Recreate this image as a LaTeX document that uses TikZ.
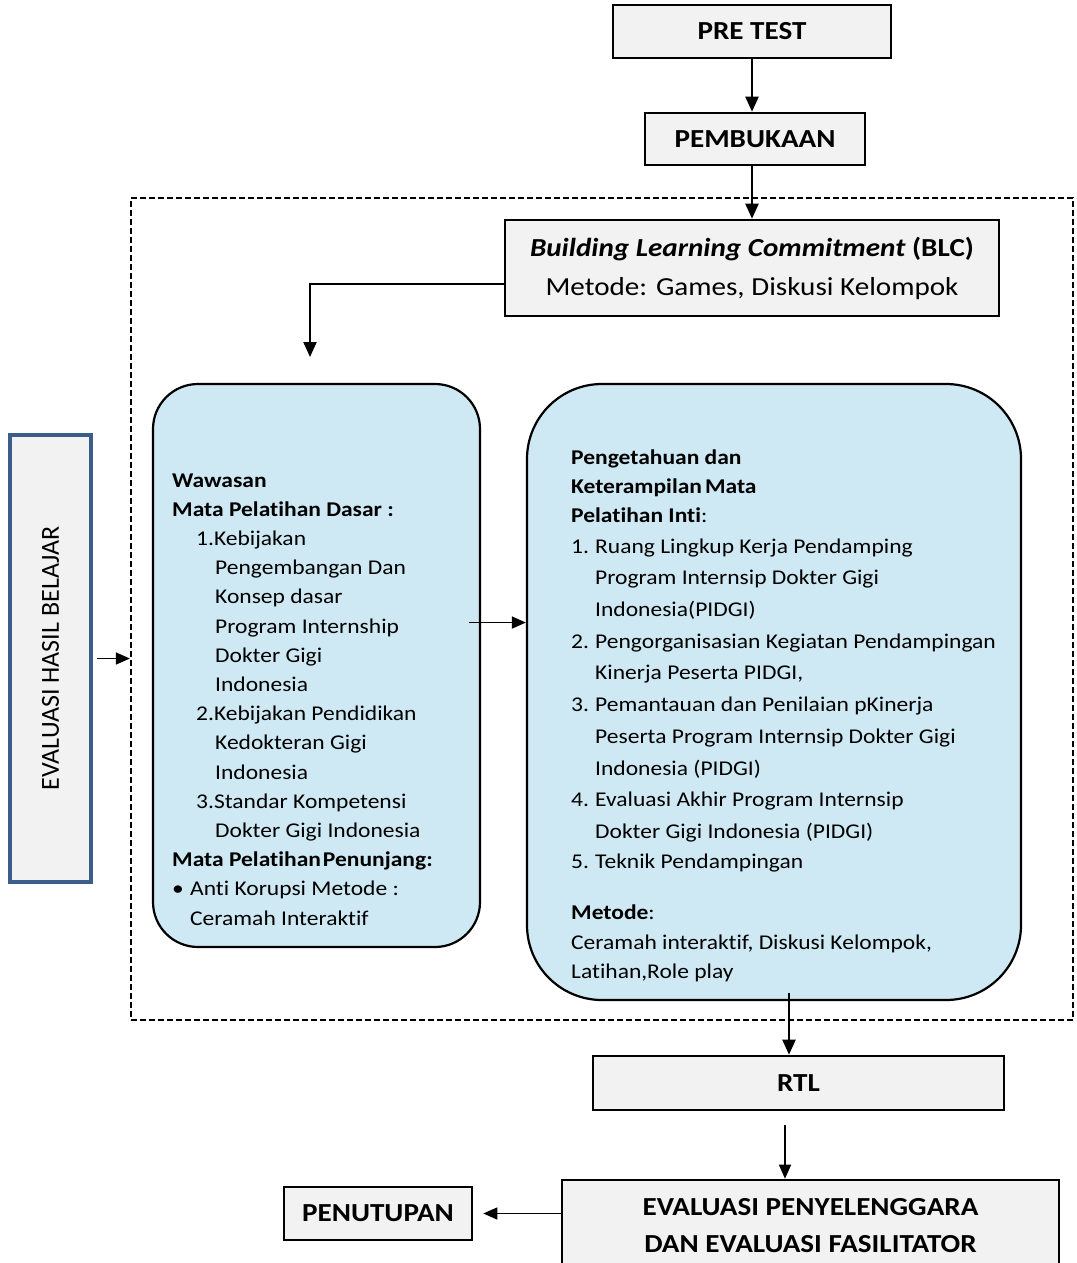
\documentclass[tikz,border=0pt]{standalone}
\usepackage{fontspec}
\setmainfont{Carlito}[FakeStretch=1.12, Ligatures=NoCommon]
\newfontfamily\plainfont{Carlito}
\usetikzlibrary{arrows.meta,positioning,calc}
\definecolor{boxgray}{RGB}{242,242,242}
\definecolor{modblue}{RGB}{206,233,243}
\definecolor{evalblue}{RGB}{59,93,137}

\begin{document}
\begin{tikzpicture}[x=1pt, y=-1pt,
    stage/.style={draw, line width=2.6pt, fill=boxgray, inner sep=0pt, align=center, font=\fontsize{26}{37}\selectfont\bfseries},
    module/.style={draw, line width=2.2pt, fill=modblue, inner sep=0pt},
    body/.style={inner sep=0pt, anchor=base west, font=\fontsize{21}{29.2}\selectfont},
    arr/.style={-{Triangle[length=15pt,width=13pt]}, line width=2.2pt},
    thinarr/.style={-{Triangle[length=14pt,width=12pt]}, line width=1.5pt}
]
\useasboundingbox (0,0) rectangle (1076,1263);

% dashed frame round the core sessions
\node[draw, dash pattern=on 6pt off 3pt, line width=2.3pt, minimum width=942pt, minimum height=822pt, inner sep=0pt] (frame) at (602,609) {};

\node[stage, minimum width=278pt, minimum height=53pt] (pre) at (752,31.5) {PRE TEST};
\node[stage, minimum width=220pt, minimum height=52pt] (buka) at (755,139) {PEMBUKAAN};
\node[stage, minimum width=494pt, minimum height=96pt, font=\fontsize{26}{39}\selectfont] (blc) at (752,268)
    {\textbf{\textit{Building Learning Commitment} (BLC)}\\Metode: Games, Diskusi Kelompok};

\node[module, rounded corners=45pt, minimum width=327pt, minimum height=563pt] (dasar) at (316.5,665.5) {};
\node[module, rounded corners=75pt, minimum width=494pt, minimum height=616pt] (inti) at (774,692) {};

\node[draw=evalblue, line width=4pt, fill=boxgray, rotate=90, minimum width=447pt, minimum height=81pt, inner sep=0pt,
      font=\plainfont\fontsize{26}{30}\selectfont] (ehb) at (50.5,658.5) {EVALUASI HASIL BELAJAR};

\node[stage, minimum width=411pt, minimum height=54pt] (rtl) at (798.5,1083) {RTL};
\node[stage, minimum width=497pt, minimum height=92pt] (evp) at (810.5,1226) {EVALUASI PENYELENGGARA\\DAN EVALUASI FASILITATOR};
\node[stage, minimum width=188pt, minimum height=53pt] (tutup) at (378,1213.5) {PENUTUPAN};

% text of the basic module
\node[body] (dasartxt) at (172,487) {\begin{tabular}[t]{@{}l@{}}
\textbf{Wawasan}\\
\textbf{Mata Pelatihan Dasar :}\\
\hspace*{24pt}1.Kebijakan\\
\hspace*{43pt}Pengembangan Dan\\
\hspace*{43pt}Konsep dasar\\
\hspace*{43pt}Program Internship\\
\hspace*{43pt}Dokter Gigi\\
\hspace*{43pt}Indonesia\\
\hspace*{24pt}2.Kebijakan Pendidikan\\
\hspace*{43pt}Kedokteran Gigi\\
\hspace*{43pt}Indonesia\\
\hspace*{24pt}3.Standar Kompetensi\\
\hspace*{43pt}Dokter Gigi Indonesia\\
\textbf{Mata Pelatihan\hspace{2pt}Penunjang:}\\
\makebox[18pt][l]{\textbullet}Anti Korupsi Metode :\\
\hspace*{18pt}Ceramah Interaktif
\end{tabular}};

% text of the core module
\node[body] (intitxt) at (571,464.5) {\begin{tabular}[t]{@{}l@{}}
\textbf{Pengetahuan dan}\\
\textbf{Keterampilan\hspace{3pt}Mata}\\
\textbf{Pelatihan Inti}:\\[1pt]
\makebox[24pt][l]{1.}Ruang Lingkup Kerja Pendamping\\[2.5pt]
\hspace*{24pt}Program Internsip Dokter Gigi\\[2.5pt]
\hspace*{24pt}Indonesia(PIDGI)\\[2.5pt]
\makebox[24pt][l]{2.}Pengorganisasian Kegiatan Pendampingan\\[2.5pt]
\hspace*{24pt}Kinerja Peserta PIDGI,\\[2.5pt]
\makebox[24pt][l]{3.}Pemantauan dan Penilaian pKinerja\\[2.5pt]
\hspace*{24pt}Peserta Program Internsip Dokter Gigi\\[2.5pt]
\hspace*{24pt}Indonesia (PIDGI)\\[2.5pt]
\makebox[24pt][l]{4.}Evaluasi Akhir Program Internsip\\[2.5pt]
\hspace*{24pt}Dokter Gigi Indonesia (PIDGI)\\[1pt]
\makebox[24pt][l]{5.}Teknik Pendampingan\\[22pt]
\textbf{Metode}:\\
Ceramah interaktif, Diskusi Kelompok,\\
Latihan,Role play
\end{tabular}};

\coordinate (blcdrop) at (310,357);
\coordinate (dasarout) at ($(dasar.north east)!0.424!(dasar.south east)+(-12,0)$);
\coordinate (intiout) at (789,993);
\coordinate (rtlout) at (785,1125);

\draw[arr] (pre.south) -- (pre.south |- buka.north);
\draw[arr] (pre.south |- buka.south) -- (pre.south |- blc.north);
\draw[arr] ([yshift=-16pt]blc.west) -| (blcdrop);
\draw[thinarr] ([xshift=4pt]ehb.south) -- (ehb.south -| frame.west);
\draw[thinarr] (dasarout) -- (dasarout -| inti.west);
\draw[arr] (intiout) -- (intiout |- rtl.north);
\draw[thinarr] (rtlout) -- (rtlout |- evp.north);
\draw[thinarr, shorten >=10pt] (evp.west |- tutup.east) -- (tutup.east);
\end{tikzpicture}
\end{document}
